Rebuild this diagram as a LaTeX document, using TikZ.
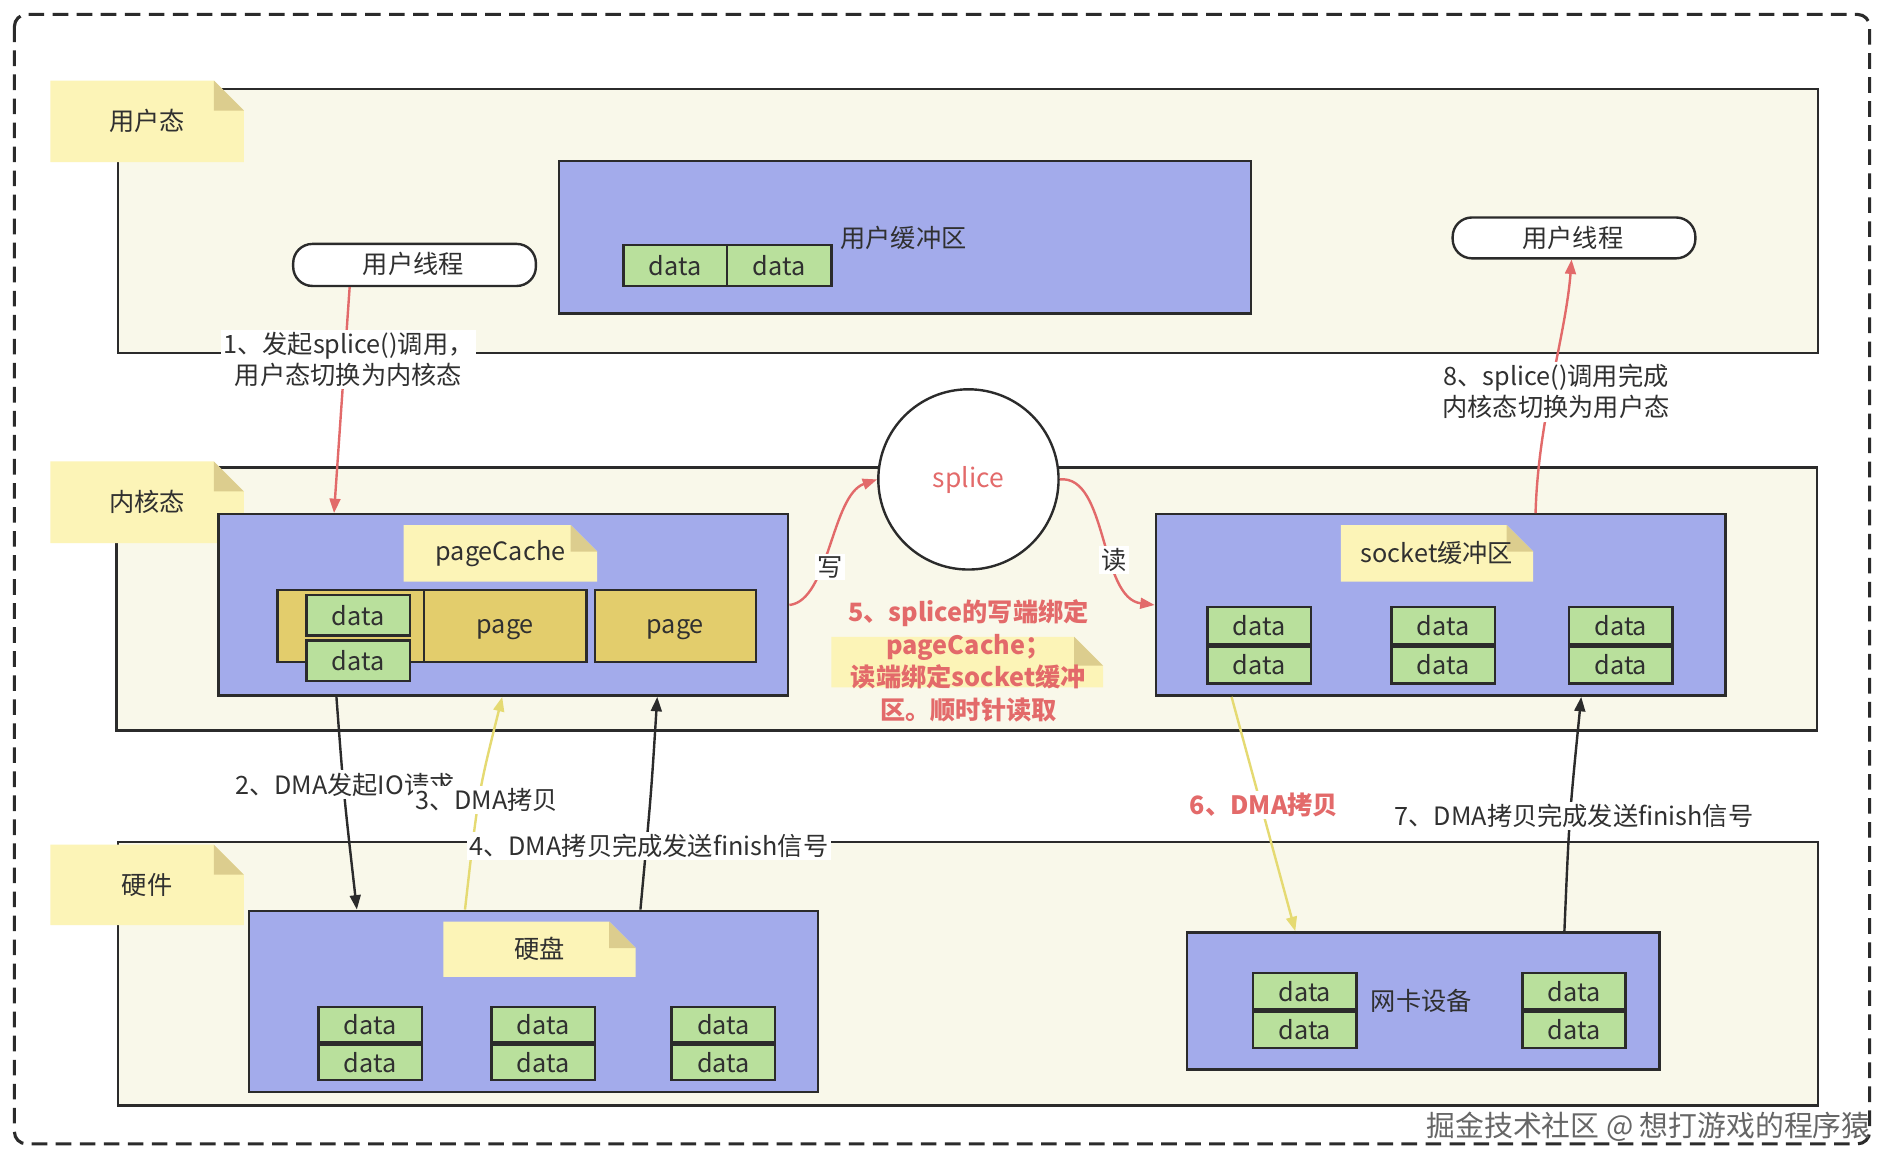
\documentclass[tikz,border=0pt]{standalone}
\usepackage{fontspec}
\setmainfont{Noto Sans CJK SC}
\usetikzlibrary{arrows.meta,calc}
\definecolor{linec}{HTML}{2B2B2B}
\definecolor{creamF}{HTML}{F9F8EA}
\definecolor{blueF}{HTML}{A3ABEB}
\definecolor{greenF}{HTML}{B9E09C}
\definecolor{noteY}{HTML}{FCF4B7}
\definecolor{foldY}{HTML}{DCCD8E}
\definecolor{goldF}{HTML}{E3CD6C}
\definecolor{redC}{HTML}{E26A6A}
\definecolor{redT}{HTML}{E36A6A}
\definecolor{yelC}{HTML}{E5DA72}
\definecolor{textC}{HTML}{303030}
\tikzset{
  layerbox/.style={draw=linec, fill=creamF, line width=2pt, inner sep=0pt, anchor=north west},
  bluebox/.style={draw=linec, fill=blueF, line width=2pt, inner sep=0pt, anchor=north west},
  databox/.style={draw=linec, fill=greenF, line width=2pt, inner sep=0pt, text=textC, font=\fontsize{21}{24}\selectfont},
  pagebox/.style={draw=linec, fill=goldF, line width=2pt, inner sep=0pt, anchor=north west, text=textC, font=\fontsize{21}{24}\selectfont, text height=12pt, text depth=0pt},
  pill/.style={draw=linec, fill=white, line width=2pt, rounded corners=16pt, inner sep=0pt, text=textC, font=\fontsize{21}{24}\selectfont, anchor=north west},
  notetext/.style={text=textC, font=\fontsize{21}{24}\selectfont, inner sep=0pt},
  lbl/.style={fill=white, inner sep=2pt, align=center, text=textC, font=\fontsize{21}{26}\selectfont},
  plaintext/.style={text=textC, font=\fontsize{21}{24}\selectfont, inner sep=0pt},
  redarrow/.style={draw=redC, line width=2pt, -{Triangle[length=12pt,width=9pt]}},
  blackarrow/.style={draw=linec, line width=2pt, -{Triangle[length=12pt,width=9pt]}},
  yelarrow/.style={draw=yelC, line width=2pt, -{Triangle[length=12pt,width=9pt]}},
}
% name, x, y, w, h, fold, text
\newcommand\mknote[7]{%
  \fill[noteY] (#2,#3) -- (#2+#4-#6,#3) -- (#2+#4,#3+#6) -- (#2+#4,#3+#5) -- (#2,#3+#5) -- cycle;
  \fill[foldY] (#2+#4-#6,#3) -- (#2+#4-#6,#3+#6) -- (#2+#4,#3+#6) -- cycle;
  \node[notetext] (#1) at (#2+#4/2,#3+#5/2) {#7};}
% name, x, y, w, h (per box)
\newcommand\dpair[5]{%
  \node[databox, minimum width=#4pt, minimum height=#5pt, anchor=north west] (#1a) at (#2,#3) {data};
  \node[databox, minimum width=#4pt, minimum height=#5pt, anchor=north] (#1b) at (#1a.south) {data};}
\begin{document}
\begin{tikzpicture}[x=1pt,y=-1pt]
\useasboundingbox (0,0) rectangle (1568,967);
\fill[white] (0,0) rectangle (1568,967);
\draw[linec, line width=2.6pt, dash pattern=on 13pt off 7pt, rounded corners=10pt] (12,12) rectangle (1556,952);

% layers
\node[layerbox, minimum width=1415pt, minimum height=220pt] (lay1) at (97,73) {};
\node[layerbox, minimum width=1415pt, minimum height=219pt] (lay2) at (96,388) {};
\node[layerbox, minimum width=1415pt, minimum height=219pt] (lay3) at (97,700) {};
\mknote{lab1}{42}{67}{161}{68}{25}{用户态}
\mknote{lab2}{42}{384}{161}{68}{25}{内核态}
\mknote{lab3}{42}{703}{161}{67}{25}{硬件}

% user space
\node[pill, minimum width=202pt, minimum height=35pt] (uthL) at (243,202) {};
\node[plaintext] (uthLt) at (344,220) {用户线程};
\node[pill, minimum width=202pt, minimum height=34pt] (uthR) at (1208,180) {};
\node[plaintext] (uthRt) at (1309,198) {用户线程};
\node[bluebox, minimum width=576pt, minimum height=127pt] (ubuf) at (464,133) {};
\node[databox, minimum width=86pt, minimum height=34pt, anchor=north west] (ud1) at (518,203) {data};
\node[databox, minimum width=87pt, minimum height=34pt, anchor=north west] (ud2) at (604,203) {data};
\node[plaintext] (ubufT) at (752,198) {用户缓冲区};

% kernel: pageCache
\node[bluebox, minimum width=474pt, minimum height=151pt] (pc) at (181,427) {};
\mknote{pcT}{336}{437}{161}{47}{22}{pageCache}
\node[pagebox, minimum width=122pt, minimum height=60pt] (pg1) at (230,490) {};
\node[pagebox, minimum width=135pt, minimum height=60pt] (pg2) at (352,490) {page};
\node[pagebox, minimum width=134pt, minimum height=60pt] (pg3) at (494,490) {page};
\node[databox, minimum width=86pt, minimum height=34pt, anchor=north west] (pd1) at (254,494) {data};
\node[databox, minimum width=86pt, minimum height=34pt, anchor=north west] (pd2) at (254,532) {data};

% splice circle
\node[circle, draw=linec, fill=white, line width=2pt, minimum size=150pt, inner sep=0pt, text=redT, font=\fontsize{22}{26}\selectfont, text height=13pt, text depth=0pt] (sp) at (806,399) {splice};

% kernel: socket buffer
\node[bluebox, minimum width=474pt, minimum height=151pt] (sock) at (961,427) {};
\mknote{sockT}{1116}{437}{160}{47}{22}{socket缓冲区}
\dpair{s1}{1004}{504}{86}{31}
\dpair{s2}{1157}{504}{86}{31}
\dpair{s3}{1305}{504}{86}{31}

% note 5
\fill[noteY] (692,530) -- (894,530) -- (918,554) -- (918,572) -- (692,572) -- cycle;
\fill[foldY] (894,530) -- (894,554) -- (918,554) -- cycle;
\node[align=center, text=redT, font=\bfseries\fontsize{21}{27}\selectfont, inner sep=0pt] (n5) at (806,550) {5、splice的写端绑定\\pageCache；\\读端绑定socket缓冲\\区。顺时针读取};

% hardware: disk
\node[bluebox, minimum width=474pt, minimum height=151pt] (disk) at (206,757) {};
\mknote{diskT}{369}{767}{160}{46}{22}{硬盘}
\dpair{d1}{264}{837}{86}{29.5}
\dpair{d2}{408}{837}{86}{29.5}
\dpair{d3}{558}{837}{86}{29.5}

% hardware: NIC
\node[bluebox, minimum width=393pt, minimum height=114pt] (nic) at (987,775) {};
\dpair{n1}{1042}{809}{86}{30}
\dpair{n2}{1266}{809}{86}{30}
\node[plaintext] (nicT) at (1183,833) {网卡设备};

% arrows
\draw[redarrow] ([xshift=48pt]uthL.south west) -- ([xshift=97pt]pc.north west);
\node[lbl] (l1) at (290,299) {1、发起splice()调用，\\用户态切换为内核态};

\draw[redarrow] ([xshift=317pt]sock.north west) .. controls (1280,350) and (1303,280) .. ([xshift=100pt]uthR.south west);
\node[lbl] (l8) at (1295,326) {8、splice()调用完成\\内核态切换为用户态};

\draw[redarrow] (pc.east) .. controls (690,500) and (692,412) .. (sp.west);
\node[lbl] (lw) at (691,472) {写};
\draw[redarrow] (sp.east) .. controls (922,395) and (915,498) .. (sock.west);
\node[lbl] (lr) at (927,466) {读};

\draw[blackarrow] ([xshift=99pt]pc.south west) .. controls (286,660) .. ([xshift=91pt]disk.north west);
\node[lbl] (l2) at (287,653) {2、DMA发起IO请求};
\draw[yelarrow] ([xshift=181pt]disk.north west) .. controls (398,660) .. ([xshift=237pt]pc.south west);
\node[lbl] (l3) at (405,666) {3、DMA拷贝};
\draw[blackarrow] ([xshift=327pt]disk.north west) .. controls (542,660) .. ([xshift=366pt]pc.south west);
\node[lbl] (l4) at (540,704) {4、DMA拷贝完成发送finish信号};

\draw[yelarrow] ([xshift=64pt]sock.south west) -- ([xshift=91pt]nic.north west);
\node[lbl, text=redT, font=\bfseries\fontsize{21}{26}\selectfont] (l6) at (1052,670) {6、DMA拷贝};
\draw[blackarrow] ([xshift=315pt]nic.north west) .. controls (1306,680) .. ([xshift=355pt]sock.south west);
\node[lbl] (l7) at (1310,679) {7、DMA拷贝完成发送finish信号};

% watermark
\node[anchor=east, text=black!60, font=\fontsize{24}{28}\selectfont, inner sep=0pt] (wm) at (1557,938) {掘金技术社区 @ 想打游戏的程序猿};
\end{tikzpicture}
\end{document}
